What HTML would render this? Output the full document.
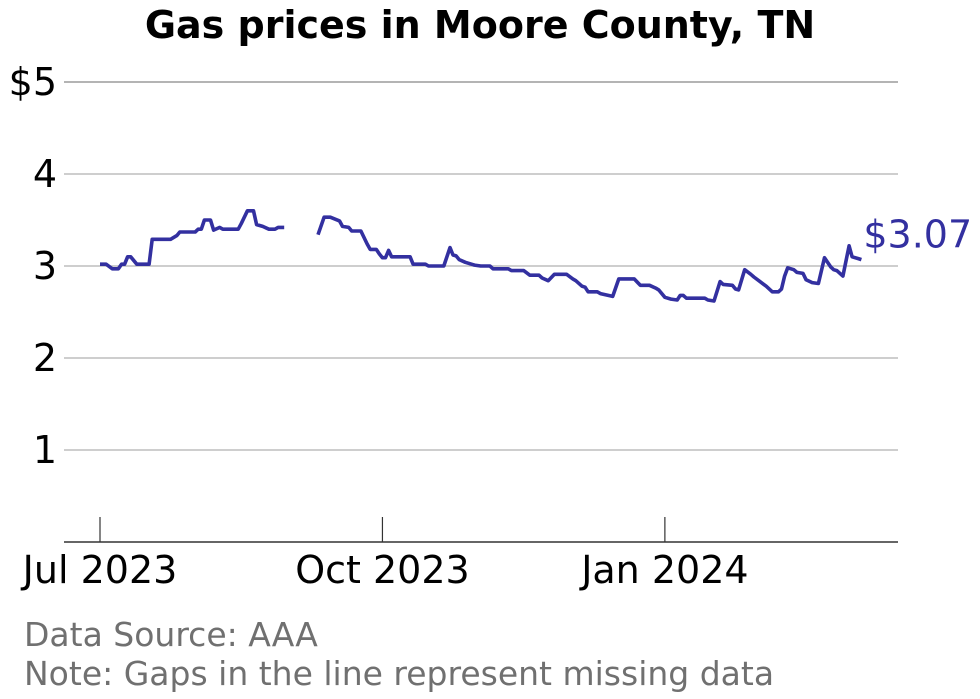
<!DOCTYPE html>
<html><head><meta charset="utf-8"><style>
body{margin:0;background:#fff;}
svg{display:block;font-family:"DejaVu Sans","Liberation Sans",sans-serif;}
</style></head><body>
<svg id="chart" width="980" height="699">
<text x="480" y="38" text-anchor="middle" font-size="38" font-weight="bold">Gas prices in Moore County, TN</text>
<g id="grid"></g>
<g id="xaxis"></g>
<g id="series"></g>
<text x="24" y="646" font-size="33" fill="#707070">Data Source: AAA</text>
<text x="24" y="685" font-size="33" fill="#707070">Note: Gaps in the line represent missing data</text>
</svg>
<script>
const days=[0,2,4,6,7,8,9,10,12,16,17,23,25,26,31,32,33,34,36,37,39,40,45,46,48,50,51,53,55,57,58,60,65,
71,73,75,78,79,81,82,85,87,88,90,91,92,93,94,95,101,102,106,107,112,114,115,116,117,119,121,122,124,127,128,133,134,138,140,143,144,146,148,152,154,155,157,158,159,162,163,167,169,174,176,179,181,182,184,186,188,189,190,191,197,198,200,202,203,206,207,208,210,212,213,215,217,219,221,222,223,224,226,227,229,230,232,234,236,238,239,240,242,244,245,247,248];
const prices=[3.02,3.02,2.97,2.97,3.02,3.02,3.10,3.10,3.02,3.02,3.29,3.29,3.33,3.37,3.37,3.40,3.40,3.50,3.50,3.39,3.42,3.40,3.40,3.46,3.60,3.60,3.45,3.43,3.40,3.40,3.42,3.42,null,
3.34,3.53,3.53,3.49,3.43,3.42,3.38,3.38,3.24,3.18,3.18,3.13,3.09,3.09,3.17,3.10,3.10,3.02,3.02,3.00,3.00,3.20,3.12,3.11,3.07,3.04,3.02,3.01,3.00,3.00,2.97,2.97,2.95,2.95,2.90,2.90,2.87,2.84,2.91,2.91,2.86,2.84,2.78,2.77,2.72,2.72,2.70,2.67,2.86,2.86,2.79,2.79,2.76,2.74,2.66,2.64,2.63,2.68,2.68,2.65,2.65,2.63,2.62,2.83,2.80,2.79,2.75,2.74,2.96,2.91,2.88,2.83,2.78,2.72,2.72,2.75,2.89,2.98,2.96,2.93,2.92,2.85,2.82,2.81,3.09,2.99,2.96,2.95,2.89,3.22,3.10,3.08,3.07];
const yTicks=[1,2,3,4,5];
const yTickLabels=["1","2","3","4","$5"];
const xTickDays=[0,92,184];
const xTickLabels=["Jul 2023","Oct 2023","Jan 2024"];
const lastLabel="$3.07";
const NS="http://www.w3.org/2000/svg";
const X=d=>100+d*3.07, Y=v=>542-v*92;
function mk(t,a,p){const e=document.createElementNS(NS,t);for(const k in a)e.setAttribute(k,a[k]);p.appendChild(e);return e;}
const grid=document.getElementById('grid');
yTicks.forEach((v,i)=>{
 const l=mk('line',{x1:64,x2:898,y1:Y(v),y2:Y(v),stroke:v==5?'#888':'#b0b0b0','stroke-width':1.2},grid);
 
 
 const t=mk('text',{x:57,y:Y(v)+13,'text-anchor':'end','font-size':38},grid);
 
 
 t.textContent=yTickLabels[i];
});
const xa=document.getElementById('xaxis');
const base=mk('line',{x1:64,x2:898,y1:542,y2:542,stroke:'#333','stroke-width':1.5},xa);


xTickDays.forEach((d,i)=>{
 const l=mk('line',{x1:X(d),x2:X(d),y1:517,y2:542,stroke:'#333','stroke-width':1.2},xa);
 
 
 const t=mk('text',{x:X(d),y:583,'text-anchor':'middle','font-size':38},xa);
 
 
 t.textContent=xTickLabels[i];
});
const s=document.getElementById('series');
let d='',pen=false;
days.forEach((dd,i)=>{const v=prices[i];if(v==null){pen=false;return;}d+=(pen?'L':'M')+X(dd).toFixed(1)+' '+Y(v).toFixed(1);pen=true;});
const p=mk('path',{d:d,fill:'none',stroke:'#3330a0','stroke-width':3.6,'stroke-linejoin':'round'},s);


const li=prices.length-1;
const lt=mk('text',{x:X(days[li])+2,y:Y(prices[li])-12,'font-size':38,fill:'#3330a0'},s);


lt.textContent=lastLabel;
</script>
</body></html>
